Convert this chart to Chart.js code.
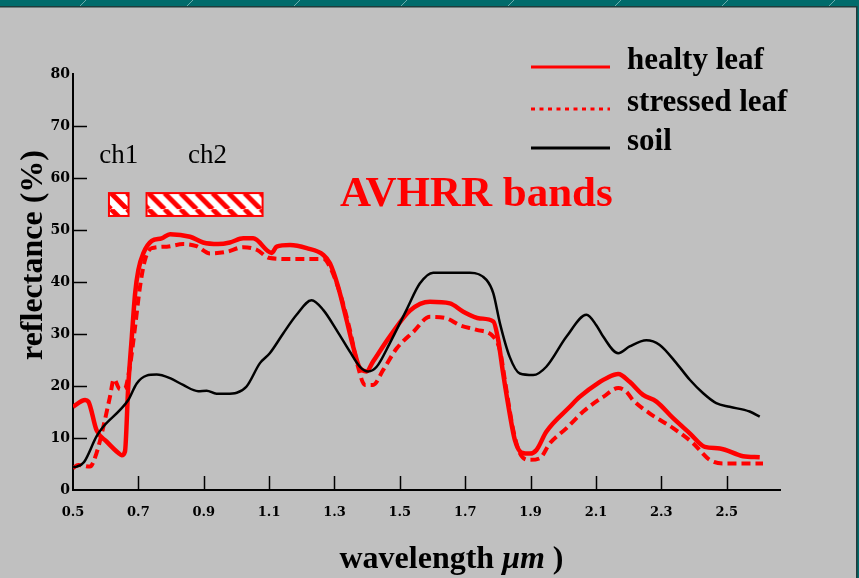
<!DOCTYPE html>
<html>
<head>
<meta charset="utf-8">
<title>Spectral reflectance</title>
<script src="https://cdn.jsdelivr.net/npm/chart.js@4.4.1/dist/chart.umd.min.js"></script>
<style>
  html, body { margin: 0; padding: 0; background: #c0c0c0; overflow: hidden; }
  canvas { display: block; }
</style>
</head>
<body>
<canvas id="chart" width="859" height="578"></canvas>
<script>
// wavelength (um) / reflectance (%) samples for each curve
const healthyWl = [0.50, 0.537, 0.547, 0.572, 0.603, 0.639, 0.649, 0.659, 0.669, 0.680, 0.690, 0.700, 0.715, 0.741, 0.771, 0.797, 0.858, 0.898, 0.944, 0.980, 1.021, 1.051, 1.108, 1.123, 1.164, 1.215, 1.266, 1.286, 1.311, 1.337, 1.357, 1.378, 1.398, 1.418, 1.469, 1.531, 1.592, 1.653, 1.694, 1.745, 1.786, 1.801, 1.816, 1.836, 1.852, 1.872, 1.898, 1.918, 1.948, 2.020, 2.050, 2.112, 2.132, 2.168, 2.203, 2.244, 2.285, 2.336, 2.387, 2.433, 2.479, 2.550, 2.601];
const healthyRefl = [16.0, 17.3, 17.0, 11.5, 9.3, 7.1, 6.7, 7.4, 19.9, 29.5, 37.8, 42.3, 45.5, 47.9, 48.4, 49.2, 48.7, 47.6, 47.3, 47.6, 48.4, 48.4, 45.6, 46.8, 47.1, 46.5, 45.2, 43.6, 39.1, 32.7, 27.6, 23.4, 22.8, 24.7, 29.5, 34.5, 36.2, 35.9, 34.3, 33.0, 32.4, 28.8, 22.4, 14.7, 9.6, 7.2, 7.0, 7.7, 11.2, 16.0, 17.9, 20.8, 21.5, 22.3, 20.8, 18.3, 17.0, 13.8, 10.9, 8.3, 8.0, 6.5, 6.3];

const stressedWl = [0.50, 0.516, 0.552, 0.572, 0.593, 0.613, 0.625, 0.644, 0.659, 0.674, 0.690, 0.705, 0.720, 0.741, 0.787, 0.837, 0.878, 0.919, 0.970, 1.021, 1.062, 1.102, 1.174, 1.266, 1.286, 1.317, 1.347, 1.372, 1.393, 1.418, 1.449, 1.490, 1.541, 1.592, 1.643, 1.683, 1.735, 1.786, 1.806, 1.826, 1.847, 1.867, 1.898, 1.928, 1.959, 2.010, 2.061, 2.122, 2.168, 2.193, 2.213, 2.265, 2.336, 2.397, 2.448, 2.489, 2.611];
const stressedRefl = [4.2, 4.8, 4.5, 7.1, 12.2, 17.9, 21.3, 19.4, 19.6, 23.7, 31.4, 39.1, 44.2, 46.5, 46.8, 47.3, 46.9, 45.5, 45.8, 46.7, 46.2, 44.6, 44.4, 44.4, 42.9, 37.8, 30.8, 23.7, 20.2, 20.2, 23.1, 27.2, 30.4, 33.3, 33.0, 31.7, 30.8, 29.5, 26.9, 19.2, 11.5, 7.1, 5.8, 6.1, 9.0, 11.9, 15.1, 17.9, 19.6, 18.9, 17.3, 14.7, 11.9, 9.0, 5.8, 5.1, 5.1];

const soilWl = [0.50, 0.512, 0.534, 0.572, 0.593, 0.644, 0.669, 0.695, 0.725, 0.756, 0.797, 0.837, 0.883, 0.909, 0.939, 0.970, 1.001, 1.031, 1.072, 1.102, 1.143, 1.184, 1.230, 1.266, 1.306, 1.347, 1.378, 1.403, 1.429, 1.469, 1.520, 1.561, 1.602, 1.653, 1.714, 1.765, 1.786, 1.806, 1.836, 1.867, 1.908, 1.948, 2.010, 2.071, 2.101, 2.122, 2.168, 2.203, 2.254, 2.295, 2.346, 2.387, 2.428, 2.468, 2.509, 2.570, 2.601];
const soilRefl = [4.4, 4.5, 5.4, 10.3, 12.2, 15.4, 17.3, 20.5, 22.0, 22.2, 21.5, 20.2, 19.0, 19.1, 18.5, 18.5, 18.7, 19.9, 24.4, 26.3, 30.1, 33.7, 36.5, 34.6, 30.8, 26.6, 23.7, 22.8, 23.7, 28.2, 34.6, 39.7, 41.8, 41.8, 41.8, 40.4, 37.8, 32.1, 25.6, 22.4, 22.1, 23.7, 29.5, 33.7, 31.7, 29.5, 26.3, 27.6, 28.8, 27.9, 24.4, 21.2, 18.6, 16.7, 16.0, 15.1, 14.1];

// AVHRR channel ranges (um) and the reflectance band they are drawn in
const bandNames = ['ch1', 'ch2'];
const bandStart = [0.61, 0.725];
const bandEnd = [0.67, 1.08];
const bandLow = [52.7, 52.7];
const bandHigh = [57.1, 57.1];

const xTickValues = [0.5, 0.7, 0.9, 1.1, 1.3, 1.5, 1.7, 1.9, 2.1, 2.3, 2.5];
const yTickValues = [0, 10, 20, 30, 40, 50, 60, 70, 80];

const seriesNames = ['healty leaf', 'stressed leaf', 'soil'];

const SERIF = '"Liberation Serif", "Times New Roman", serif';
const RED = '#ff0000';

const toPoints = (xs, ys) => xs.map((x, i) => ({ x, y: ys[i] }));

function hatchPattern(ctx) {
  const s = 16;
  const tile = document.createElement('canvas');
  tile.width = s;
  tile.height = s;
  const t = tile.getContext('2d');
  t.fillStyle = '#fff';
  t.fillRect(0, 0, s, s);
  t.strokeStyle = RED;
  t.lineWidth = 5;
  t.beginPath();
  for (const o of [-s, 0, s]) {
    t.moveTo(o, 0);
    t.lineTo(o + s, s);
  }
  t.stroke();
  return ctx.createPattern(tile, 'repeat');
}

// slide background: grey panel with teal frame on top and right
const backdrop = {
  id: 'backdrop',
  beforeDraw(chart) {
    const { ctx, width, height } = chart;
    ctx.save();
    ctx.fillStyle = '#c0c0c0';
    ctx.fillRect(0, 0, width, height);
    ctx.fillStyle = '#006b6b';
    ctx.fillRect(0, 0, width, 6);
    ctx.fillRect(857, 0, width - 857, height);
    ctx.fillStyle = '#1f3b3b';
    ctx.fillRect(0, 6, 857, 1.5);
    ctx.fillRect(856, 6, 1.5, height);
    ctx.strokeStyle = 'rgba(190, 225, 225, 0.55)';
    ctx.lineWidth = 1;
    for (let x = 80; x < width; x += 107) {
      ctx.beginPath();
      ctx.moveTo(x, 6);
      ctx.lineTo(x + 6, 0);
      ctx.stroke();
    }
    ctx.restore();
  }
};

// inward tick marks, band boxes, legend and titles
const decorations = {
  id: 'decorations',
  afterDraw(chart) {
    const { ctx, scales: { x, y } } = chart;
    ctx.save();

    // tick marks pointing into the plot
    ctx.strokeStyle = '#000';
    ctx.lineWidth = 1.5;
    xTickValues.slice(1).forEach(v => {
      const px = Math.round(x.getPixelForValue(v)) + 0.5;
      ctx.beginPath();
      ctx.moveTo(px, y.bottom);
      ctx.lineTo(px, y.bottom - 14);
      ctx.stroke();
    });
    yTickValues.slice(1, -1).forEach(v => {
      const py = Math.round(y.getPixelForValue(v)) + 0.5;
      ctx.beginPath();
      ctx.moveTo(x.left, py);
      ctx.lineTo(x.left + 14, py);
      ctx.stroke();
    });

    // AVHRR band boxes
    const pattern = hatchPattern(ctx);
    bandNames.forEach((name, i) => {
      const x1 = x.getPixelForValue(bandStart[i]);
      const x2 = x.getPixelForValue(bandEnd[i]);
      const y1 = y.getPixelForValue(bandHigh[i]);
      const y2 = y.getPixelForValue(bandLow[i]);
      ctx.save();
      ctx.translate(x1 + 2, y1);
      ctx.fillStyle = pattern;
      ctx.fillRect(-2, 0, x2 - x1, y2 - y1);
      ctx.restore();
      ctx.strokeStyle = RED;
      ctx.lineWidth = 2;
      ctx.strokeRect(x1, y1, x2 - x1, y2 - y1);

      ctx.fillStyle = '#000';
      ctx.font = `27px ${SERIF}`;
      ctx.textAlign = 'center';
      ctx.textBaseline = 'alphabetic';
      ctx.fillText(name, (x1 + x2) / 2 + (i ? 3 : 0), y.getPixelForValue(62.9));
    });

    ctx.fillStyle = RED;
    ctx.font = `bold 43px ${SERIF}`;
    ctx.textAlign = 'center';
    ctx.fillText('AVHRR bands', x.getPixelForValue(1.734), y.getPixelForValue(54.6));

    // legend
    const legendY = [67, 109, 148];
    const textY = [69, 110.5, 150];
    const colors = [RED, RED, '#000'];
    const dashes = [[], [4, 4.5], []];
    legendY.forEach((ly, i) => {
      ctx.strokeStyle = colors[i];
      ctx.lineWidth = 3;
      ctx.setLineDash(dashes[i]);
      ctx.beginPath();
      ctx.moveTo(531, ly);
      ctx.lineTo(610, ly);
      ctx.stroke();
      ctx.setLineDash([]);
      ctx.fillStyle = '#000';
      ctx.font = `bold 31px ${SERIF}`;
      ctx.textAlign = 'left';
      ctx.fillText(seriesNames[i], 627, textY[i]);
    });

    // axis titles
    ctx.fillStyle = '#000';
    ctx.save();
    ctx.translate(34, 255);
    ctx.rotate(-Math.PI / 2);
    ctx.font = `bold 32px ${SERIF}`;
    ctx.textAlign = 'center';
    ctx.textBaseline = 'middle';
    ctx.fillText('reflectance (%)', 0, 0);
    ctx.restore();

    const parts = [
      ['wavelength ', `bold 32px ${SERIF}`],
      ['\u03bcm', `italic bold 32px ${SERIF}`],
      [' )', `bold 32px ${SERIF}`]
    ];
    let total = 0;
    parts.forEach(([t, f]) => { ctx.font = f; total += ctx.measureText(t).width; });
    let cx = 451.5 - total / 2;
    ctx.textAlign = 'left';
    ctx.textBaseline = 'alphabetic';
    parts.forEach(([t, f]) => {
      ctx.font = f;
      ctx.fillText(t, cx, 568);
      cx += ctx.measureText(t).width;
    });

    ctx.restore();
  }
};

const tickFont = { family: '"DejaVu Serif", serif', weight: 'bold', size: 13 };

new Chart(document.getElementById('chart'), {
  type: 'line',
  data: {
    datasets: [
      {
        label: seriesNames[0],
        data: toPoints(healthyWl, healthyRefl),
        borderColor: RED,
        borderWidth: 4.5,
        order: 1
      },
      {
        label: seriesNames[1],
        data: toPoints(stressedWl, stressedRefl),
        borderColor: RED,
        borderWidth: 4,
        borderDash: [9, 5],
        order: 2
      },
      {
        label: seriesNames[2],
        data: toPoints(soilWl, soilRefl),
        borderColor: '#000',
        borderWidth: 2.5,
        order: 0
      }
    ]
  },
  options: {
    responsive: false,
    animation: false,
    devicePixelRatio: 1,
    layout: { padding: { left: 0, top: 74, right: 79, bottom: 0 } },
    elements: {
      point: { radius: 0 },
      line: { cubicInterpolationMode: 'monotone', fill: false }
    },
    plugins: {
      legend: { display: false },
      tooltip: { enabled: false }
    },
    scales: {
      x: {
        type: 'linear',
        min: 0.5,
        max: 2.663,
        afterBuildTicks: scale => { scale.ticks = xTickValues.map(value => ({ value })); },
        afterFit: scale => { scale.height = 88; },
        ticks: {
          autoSkip: false,
          maxRotation: 0,
          padding: 15,
          color: '#000',
          font: tickFont,
          callback: v => Number(v).toFixed(1)
        },
        grid: { display: false, drawTicks: false },
        border: { display: true, color: '#000', width: 2 }
      },
      y: {
        min: 0,
        max: 80,
        afterBuildTicks: scale => { scale.ticks = yTickValues.map(value => ({ value })); },
        afterFit: scale => { scale.width = 73; },
        ticks: {
          autoSkip: false,
          padding: 3,
          color: '#000',
          font: { ...tickFont, size: 14 }
        },
        grid: { display: false, drawTicks: false },
        border: { display: true, color: '#000', width: 2 }
      }
    }
  },
  plugins: [backdrop, decorations]
});
</script>
</body>
</html>
